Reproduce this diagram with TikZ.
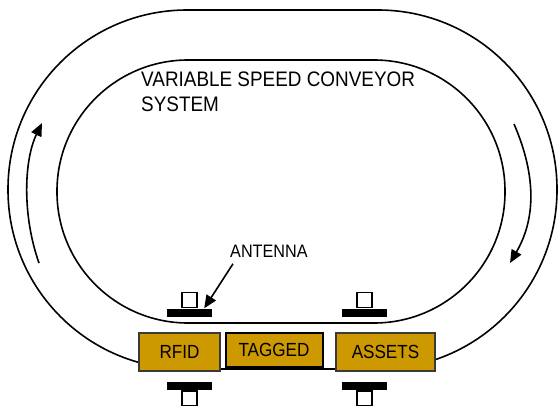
\documentclass[tikz,border=0pt]{standalone}
\usepackage{fontspec}
\setmainfont{Liberation Sans}[FakeStretch=0.9]
\usepackage{tikz}
\usetikzlibrary{arrows.meta, positioning}
\definecolor{gold}{HTML}{CC9900}
\definecolor{rim}{HTML}{3A3A3A}

\begin{document}
\begin{tikzpicture}[
  x=1pt, y=-1pt,
  track/.style={line width=1.6pt},
  tag/.style={rectangle, draw=rim, line width=1.5pt, fill=gold, inner sep=0pt,
              minimum width=81pt, minimum height=38pt, font=\fontsize{19}{22}\selectfont},
  bar/.style={rectangle, fill=black, inner sep=0pt, minimum width=45pt, minimum height=8pt},
  antcap/.style={rectangle, draw=black, fill=white, line width=1.3pt, inner sep=0pt, minimum size=15pt},
  arr/.style={-{Triangle[length=13pt, width=11pt]}, line width=1.6pt},
]
  \useasboundingbox (0,0) rectangle (560,405);

  % conveyor track
  \draw[track, rounded corners=179pt] (8,10) rectangle (557,369);
  \draw[track, rounded corners=131pt] (57,60) rectangle (505,323);

  % direction of travel
  \draw[arr] (39,263) .. controls (22,215) and (24,160) .. (42,123);
  \draw[arr] (514,124) .. controls (534,170) and (538,215) .. (510,263);

  \node[anchor=north west, inner sep=0pt, align=left,
        font=\fontsize{21}{25}\selectfont] (title) at (141,72)
        {VARIABLE SPEED CONVEYOR\\SYSTEM};

  % boxes on the belt
  \node[tag] (rfid) at (179.5,352) {RFID};
  \node[tag, draw=black, line width=2pt, minimum width=97pt, minimum height=34pt]
        (tagged) at (274,350) {TAGGED};
  \node[tag, minimum width=99pt] (assets) at (385.5,352) {ASSETS};

  % antennas
  \node[bar] (ant1) at (189.5,312.5) {};
  \node[antcap, above=0pt of ant1] (cap1) {};
  \node[bar] (ant2) at (364.5,312.5) {};
  \node[antcap, above=0pt of ant2] (cap2) {};
  \node[bar] (ant3) at (189.5,386) {};
  \node[antcap, below=0pt of ant3] (cap3) {};
  \node[bar] (ant4) at (364.5,386) {};
  \node[antcap, below=0pt of ant4] (cap4) {};

  \node[anchor=north west, inner sep=0pt, font=\fontsize{18}{21}\selectfont]
        (antlabel) at (230,245) {ANTENNA};
  \draw[arr] ([xshift=3pt,yshift=-6pt]antlabel.south west)
        -- ([xshift=-8pt]ant1.north east);
\end{tikzpicture}
\end{document}
